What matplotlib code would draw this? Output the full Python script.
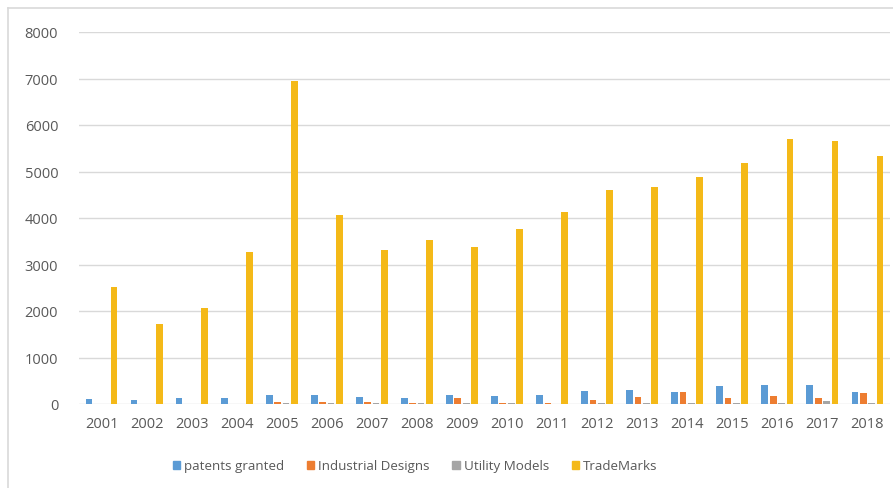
import numpy as np
import matplotlib.pyplot as plt
from matplotlib.patches import Patch
from matplotlib.lines import Line2D

# Data
years = [str(y) for y in range(2001, 2019)]
patents_granted = [110, 80, 135, 130, 190, 200, 140, 130, 200, 165,
                   200, 270, 300, 260, 380, 410, 415, 250]
industrial_designs = [10, 8, 10, 10, 40, 40, 40, 30, 130, 30,
                      20, 90, 150, 260, 130, 165, 130, 240]
utility_models = [5, 5, 5, 5, 15, 15, 15, 15, 20, 15,
                  10, 20, 20, 20, 20, 20, 60, 20]
trademarks = [2517, 1717, 2075, 3268, 6940, 4062, 3311, 3519, 3384, 3755,
              4127, 4600, 4672, 4878, 5187, 5702, 5665, 5328]

series = [("patents granted", patents_granted, "#5B9BD5"),
          ("Industrial Designs", industrial_designs, "#ED7D31"),
          ("Utility Models", utility_models, "#A5A5A5"),
          ("TradeMarks", trademarks, "#F4B918")]

plt.rcParams['font.family'] = ['Open Sans', 'DejaVu Sans']

W, H = 893, 489
fig = plt.figure(figsize=(W / 100, H / 100), dpi=100)
ax = fig.add_axes([79 / W, 1 - 405 / H, (890 - 79) / W, (405 - 33) / H])

x = np.arange(len(years))
step = 0.186
width = 0.15
for i, (name, vals, color) in enumerate(series):
    ax.bar(x + (i - 1.5) * step, vals, width=width, color=color, zorder=3)

ax.set_xlim(-0.5, len(years) - 0.5)
ax.set_ylim(0, 8000)
ax.set_yticks(range(0, 8001, 1000))
ax.set_xticks(x)
ax.set_xticklabels(years)
ax.grid(axis='y', color='#D9D9D9', linewidth=1, zorder=0)
ax.tick_params(axis='both', length=0, labelsize=10.5, labelcolor='#595959')
ax.tick_params(axis='y', pad=15)
ax.tick_params(axis='x', pad=9)
for s in ax.spines.values():
    s.set_visible(False)

# legend below
handles = [Patch(color=c, label=n) for n, _, c in series]
fig.legend(handles=handles, loc='center', bbox_to_anchor=(415 / W, 1 - 467 / H),
           ncol=4, frameon=False, fontsize=9.6, handlelength=0.55, handleheight=0.55,
           handletextpad=0.3, columnspacing=1.7, labelcolor='#595959')

# chart area border (cropped on right and bottom)
fig.add_artist(Line2D([8 / W, 1], [1 - 9 / H, 1 - 9 / H], color='#D9D9D9',
                      linewidth=1.2, transform=fig.transFigure))
fig.add_artist(Line2D([8 / W, 8 / W], [0, 1 - 9 / H], color='#D9D9D9',
                      linewidth=1.2, transform=fig.transFigure))

fig.savefig('out.png', dpi=100)
